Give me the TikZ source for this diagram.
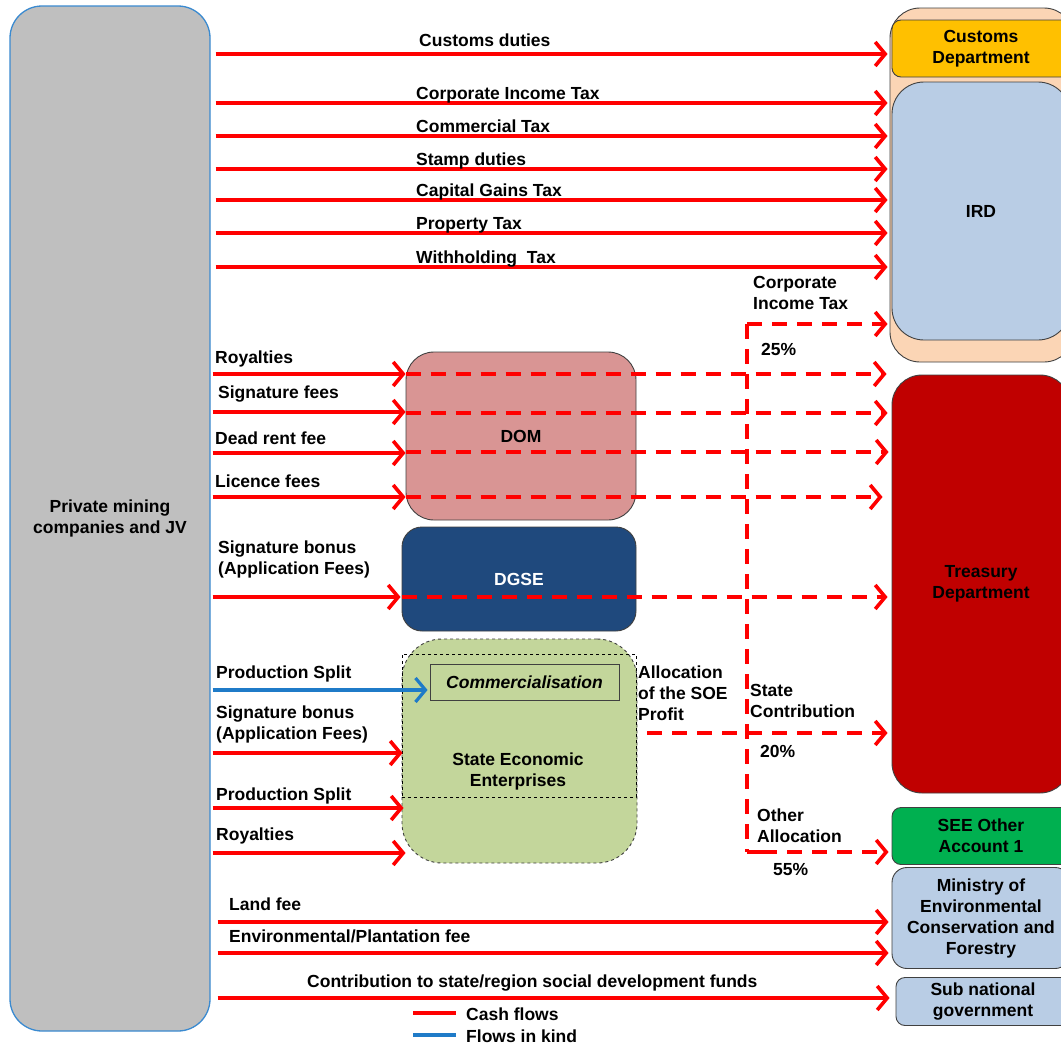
\documentclass[tikz,border=0pt]{standalone}
\usepackage{fontspec}
\setmainfont{Liberation Sans}
\usetikzlibrary{arrows.meta}
\definecolor{cashred}{HTML}{FF0000}
\definecolor{kindblue}{HTML}{1F7BC8}
\definecolor{pmgray}{HTML}{BFBFBF}
\definecolor{pmborder}{HTML}{3A8AD0}
\definecolor{peach}{HTML}{FBD5B5}
\definecolor{custyel}{HTML}{FFC000}
\definecolor{irdblue}{HTML}{B9CDE5}
\definecolor{treasred}{HTML}{C00000}
\definecolor{seegreen}{HTML}{00B050}
\definecolor{domred}{HTML}{D99594}
\definecolor{dgseblue}{HTML}{1F497D}
\definecolor{soegreen}{HTML}{C3D69B}
\definecolor{edge}{HTML}{404040}
\begin{document}
\begin{tikzpicture}[x=1pt,y=-1pt,
  every node/.style={font=\fontsize{17.5}{21}\selectfont\bfseries},
  box/.style={draw=edge, line width=0.9pt, rounded corners=#1, align=center, inner sep=0pt},
  cash/.style={draw=cashred, line width=3.6pt, -{Straight Barb[length=10pt,width=24pt]}},
  cashline/.style={draw=cashred, line width=3.6pt},
  cashd/.style={cash, dash pattern=on 15pt off 10pt},
  kind/.style={draw=kindblue, line width=3.2pt, -{Straight Barb[length=10pt,width=24pt]}},
  lbl/.style={anchor=base west, inner sep=0pt, align=left},
]
\useasboundingbox (0,0) rectangle (1061,1044);
\clip (0,0) rectangle (1061,1044);
\fill[white] (0,0) rectangle (1061,1044);

% ---------- boxes ----------
\node[box=32, draw=pmborder, line width=1.3pt, fill=pmgray, minimum width=200, minimum height=1025] (pm) at (110,518.5) {Private mining\\companies and JV};

\node[box=30, fill=peach, minimum width=184, minimum height=354] (peach) at (982,185) {};
\node[box=9, fill=custyel, minimum width=178, minimum height=57] (cust) at (981,48.5) {Customs\\Department};
\node[box=32, fill=irdblue, minimum width=178, minimum height=258] (ird) at (981,211) {IRD};
\node[box=30, fill=treasred, minimum width=178, minimum height=418] (treas) at (981,584) {Treasury\\Department};
\node[box=9, fill=seegreen, minimum width=178, minimum height=57] (seeo) at (981,836) {SEE Other\\Account 1};
\node[box=15, fill=irdblue, minimum width=178, minimum height=101] (min) at (981,918) {Ministry of\\Environmental\\Conservation and\\Forestry};
\node[box=9, fill=irdblue, minimum width=174, minimum height=48] (sub) at (983,1001.5) {Sub national\\government};

\node[box=28, fill=domred, minimum width=230, minimum height=168] (dom) at (521,436) {DOM};
\node[box=20, fill=dgseblue, text=white, minimum width=234, minimum height=104] (dgse) at (519,579) {DGSE};
\node[box=40, fill=soegreen, dashed, minimum width=235, minimum height=224] (soe) at (519.5,751) {};
\node[draw=black, dashed, line width=0.9pt, minimum width=234, minimum height=143, inner sep=0pt] (soein) at (519,725.5) {};
\node[draw=edge, line width=0.9pt, minimum width=189, minimum height=36, inner sep=0pt, font=\fontsize{17.5}{21}\selectfont\bfseries\itshape] (comm) at (524.5,682) {Commercialisation};
\node[align=center, inner sep=0pt, anchor=base] (soetxt) at (518,786) {State Economic\\Enterprises};

% ---------- direct tax flows ----------
\draw[cash] ([xshift=5]pm.east |- 0,54) -- ([xshift=-4]cust.west |- 0,54);
\node[lbl] (l1) at (419,46) {Customs duties};
\foreach \y/\t in {103/Corporate Income Tax,136/Commercial Tax,169/Stamp duties,200/Capital Gains Tax,233/Property Tax,267/Withholding\ \ Tax}{
  \draw[cash] ([xshift=5]pm.east |- 0,\y) -- ([xshift=-4]ird.west |- 0,\y);
  \node[lbl] at (416,\y-4) {\t};
}

% ---------- DOM ----------
\foreach \y in {374,412,453,497}{
  \draw[cash] ([xshift=2]pm.east |- 0,\y) -- (dom.west |- 0,\y);
}
\node[lbl] at (215,363) {Royalties};
\node[lbl] at (218,398) {Signature fees};
\node[lbl] at (215,444) {Dead rent fee};
\node[lbl] at (215,487) {Licence fees};
\draw[cashd] (dom.west |- 0,374) -- ([xshift=-5]treas.west |- 0,374);
\draw[cashd] (dom.west |- 0,413) -- ([xshift=-4]treas.west |- 0,413);
\draw[cashd] (dom.west |- 0,452) -- ([xshift=-3]treas.west |- 0,452);
\draw[cashd] (dom.west |- 0,497) -- ([xshift=-9]treas.west |- 0,497);

% ---------- DGSE ----------
\draw[cash] ([xshift=2]pm.east |- 0,597) -- ([xshift=-1]dgse.west |- 0,597);
\node[lbl] at (218,574) {Signature bonus\\(Application Fees)};
\draw[cashd] (dgse.west |- 0,597) -- ([xshift=-4]treas.west |- 0,597);

% ---------- SOE ----------
\draw[kind] ([xshift=2]pm.east |- 0,690) -- ([xshift=-2]comm.west |- 0,690);
\node[lbl] at (216,678) {Production Split};
\draw[cash] ([xshift=2]pm.east |- 0,753) -- ([xshift=1]soe.west |- 0,753);
\node[lbl] at (216,739) {Signature bonus\\(Application Fees)};
\draw[cash] ([xshift=2]pm.east |- 0,808) -- ([xshift=2]soe.west |- 0,808);
\node[lbl] at (216,800) {Production Split};
\draw[cash] ([xshift=2]pm.east |- 0,853) -- ([xshift=4]soe.west |- 0,853);
\node[lbl] at (216,840) {Royalties};

% ---------- allocation of SOE profit ----------
\coordinate (vtop) at (747,324);
\coordinate (vbot) at (747,852);
\coordinate (vmid) at (747,733);
\draw[cashline, dash pattern=on 15pt off 10pt] (vtop) -- (vbot);
\draw[cashd] (vtop) -- ([xshift=-4]ird.west |- vtop);
\draw[cashd] ([xshift=10]soe.east |- vmid) -- ([xshift=-4]treas.west |- vmid);
\draw[cashd] ([xshift=15]vbot) -- ([xshift=-3]seeo.west |- vbot);
\draw[cashline, dash pattern=on 15pt off 10pt] (vbot) -- ([xshift=15]vbot);
\node[lbl] at (638,720) {Allocation\\of the SOE\\Profit};
\node[lbl] at (753,309) {Corporate\\Income Tax};
\node[lbl] at (761,355) {25\%};
\node[lbl] at (750,717) {State\\Contribution};
\node[lbl] at (760,757) {20\%};
\node[lbl] at (757,842) {Other\\Allocation};
\node[lbl] at (773,875) {55\%};

% ---------- environment / sub national ----------
\draw[cash] ([xshift=7]pm.east |- 0,922) -- ([xshift=-3]min.west |- 0,922);
\node[lbl] at (229,910) {Land fee};
\draw[cash] ([xshift=7]pm.east |- 0,953) -- ([xshift=-3]min.west |- 0,953);
\node[lbl] at (229,942) {Environmental/Plantation fee};
\draw[cash] ([xshift=7]pm.east |- 0,998) -- ([xshift=-6]sub.west |- 0,998);
\node[lbl] at (307,987) {Contribution to state/region social development funds};

% ---------- legend ----------
\coordinate (lg1a) at (413,1013);
\coordinate (lg1b) at (456,1013);
\coordinate (lg2a) at (413,1035);
\coordinate (lg2b) at (456,1035);
\draw[cashline] (lg1a) -- (lg1b);
\draw[draw=kindblue, line width=3.2pt] (lg2a) -- (lg2b);
\node[lbl] at (466,1020) {Cash flows};
\node[lbl] at (466,1042) {Flows in kind};
\end{tikzpicture}
\end{document}
